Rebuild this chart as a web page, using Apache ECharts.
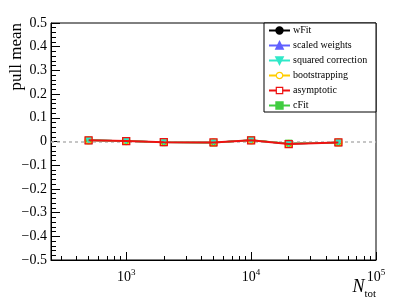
<!DOCTYPE html>
<html><head><meta charset="utf-8">
<script src="https://cdn.jsdelivr.net/npm/echarts@6/dist/echarts.min.js"></script>
<style>html,body{margin:0;padding:0;background:#fff}#c{width:407px;height:299px}</style>
</head><body><div id="c"></div>
<script>
var nTot = [500, 1000, 2000, 5000, 10000, 20000, 50000];
var wFit = [0.005, 0.002, -0.003, -0.004, 0.005, -0.010, -0.004];
var scaledWeights = [0.005, 0.002, -0.003, -0.004, 0.005, -0.010, -0.004];
var squaredCorrection = [0.005, 0.002, -0.003, -0.004, 0.005, -0.010, -0.004];
var bootstrapping = [0.005, 0.002, -0.003, -0.004, 0.005, -0.010, -0.004];
var asymptotic = [0.005, 0.002, -0.003, -0.004, 0.005, -0.011, -0.004];
var cFit = [0.005, 0.002, -0.003, -0.005, 0.006, -0.008, -0.004];
var xMajorExp = [3, 4, 5];
var xRange = [250, 100000];
var yRange = [-0.5, 0.5];

var minorVals = [];
[100, 1000, 10000].forEach(function (d) {
  for (var k = 2; k <= 9; k++) {
    var v = k * d;
    if (v > xRange[0] && v < xRange[1]) minorVals.push(Math.log10(v));
  }
});
var serif = 'Liberation Serif';
var clear = 'rgba(255,255,255,0)';
function mk(name, vals, color, symbol, size, lw, z, hollow) {
  return {
    name: name, type: 'line', z: z,
    data: vals.map(function (v, i) { return [Math.log10(nTot[i]), v]; }),
    symbol: symbol, symbolSize: size,
    lineStyle: { color: color, width: lw },
    itemStyle: { color: hollow ? clear : color, borderColor: color, borderWidth: hollow ? 1.3 : 0.5 },
    emphasis: { disabled: true }, animation: false
  };
}
var chart = echarts.init(document.getElementById('c'), null, { renderer: 'canvas' });
var series = [
  mk('wFit', wFit, '#000000', 'circle', 6, 1.5, 2),
  mk('scaled weights', scaledWeights, '#6060ff', 'triangle', 7, 1.5, 3),
  mk('cFit', cFit, '#40cc40', 'rect', 7, 1.5, 4),
  mk('bootstrapping', bootstrapping, '#ffcc00', 'circle', 7, 1.5, 5, true),
  mk('squared correction', squaredCorrection, '#30e8c8', 'path://M0,0 L10,0 L5,9 Z', 6, 1.5, 6),
  mk('asymptotic', asymptotic, '#ee1111', 'rect', 7, 2, 7, true)
];
series[0].markLine = {
  silent: true, symbol: ['none', 'none'], label: { show: false },
  lineStyle: { color: '#b4b4b4', type: [3, 3], width: 1.5 },
  data: [{ yAxis: 0 }], animation: false
};
chart.setOption({
  animation: false,
  backgroundColor: '#ffffff',
  grid: { left: 51, top: 23, right: 31, bottom: 39, show: true, borderColor: '#000', borderWidth: 1, backgroundColor: 'transparent' },
  xAxis: [{
    type: 'value', min: Math.log10(xRange[0]), max: Math.log10(xRange[1]), position: 'bottom',
    axisLine: { show: true, onZero: false, lineStyle: { color: '#000', width: 1 } },
    splitLine: { show: false },
    axisTick: { show: true, inside: true, length: 8, customValues: xMajorExp, lineStyle: { color: '#000' } },
    axisLabel: {
      show: true, customValues: xMajorExp, margin: 8,
      formatter: function (v) { return '{b|10}{s|' + Math.round(v) + '}'; },
      rich: {
        b: { fontFamily: serif, fontSize: 14, color: '#000', verticalAlign: 'bottom', lineHeight: 16 },
        s: { fontFamily: serif, fontSize: 9, color: '#000', verticalAlign: 'top', lineHeight: 16 }
      }
    }
  }, {
    type: 'value', min: Math.log10(xRange[0]), max: Math.log10(xRange[1]), position: 'bottom', offset: 0,
    axisLine: { show: false, onZero: false }, splitLine: { show: false },
    axisTick: { show: true, inside: true, length: 4, customValues: minorVals, lineStyle: { color: '#000' } },
    axisLabel: { show: false }
  }],
  yAxis: {
    type: 'value', min: yRange[0], max: yRange[1], interval: 0.1, position: 'left',
    axisLine: { show: true, onZero: false, lineStyle: { color: '#000' } },
    splitLine: { show: false },
    axisTick: { show: true, inside: true, length: 9, lineStyle: { color: '#000' } },
    minorTick: { show: true, splitNumber: 5, length: 5, lineStyle: { color: '#000' } },
    axisLabel: {
      margin: 4, fontFamily: serif, fontSize: 14, color: '#000',
      formatter: function (v) {
        var r = Math.round(v * 10) / 10;
        if (r === 0) return '0';
        return (r < 0 ? '\u2212' : '') + Math.abs(r).toFixed(1);
      }
    }
  },
  legend: {
    orient: 'vertical', left: 268, top: 24, padding: 0, itemWidth: 21, itemHeight: 8, itemGap: 2, z: 20,
    data: [
      { name: 'wFit' },
      { name: 'scaled weights' },
      { name: 'squared correction' },
      { name: 'bootstrapping', itemStyle: { color: '#ffffff', borderColor: '#ffcc00', borderWidth: 1.2 } },
      { name: 'asymptotic', itemStyle: { color: '#ffffff', borderColor: '#ee1111', borderWidth: 1.2 } },
      { name: 'cFit' }
    ],
    textStyle: { fontFamily: serif, fontSize: 10, lineHeight: 13, color: '#000', padding: [0, 0, 0, -2] },
    selectedMode: false
  },
  graphic: [
    { type: 'rect', shape: { x: 264, y: 23, width: 112, height: 89 }, style: { fill: '#fff', stroke: '#000', lineWidth: 1 }, z: 1, silent: true },
    { type: 'text', x: 17, y: 23, rotation: Math.PI / 2, z: 100,
      style: { text: 'pull mean', font: '17px "Liberation Serif"', fill: '#000', align: 'right', verticalAlign: 'middle' } },
    { type: 'text', x: 376, y: 278, z: 100,
      style: { text: '{n|N}{t|tot}', align: 'right', verticalAlign: 'top',
        rich: { n: { font: 'italic 18px "Liberation Serif"', fill: '#000', verticalAlign: 'top', lineHeight: 18 },
                t: { font: '11px "Liberation Serif"', fill: '#000', verticalAlign: 'bottom', lineHeight: 22 } } } }
  ],
  series: series
});
</script></body></html>
